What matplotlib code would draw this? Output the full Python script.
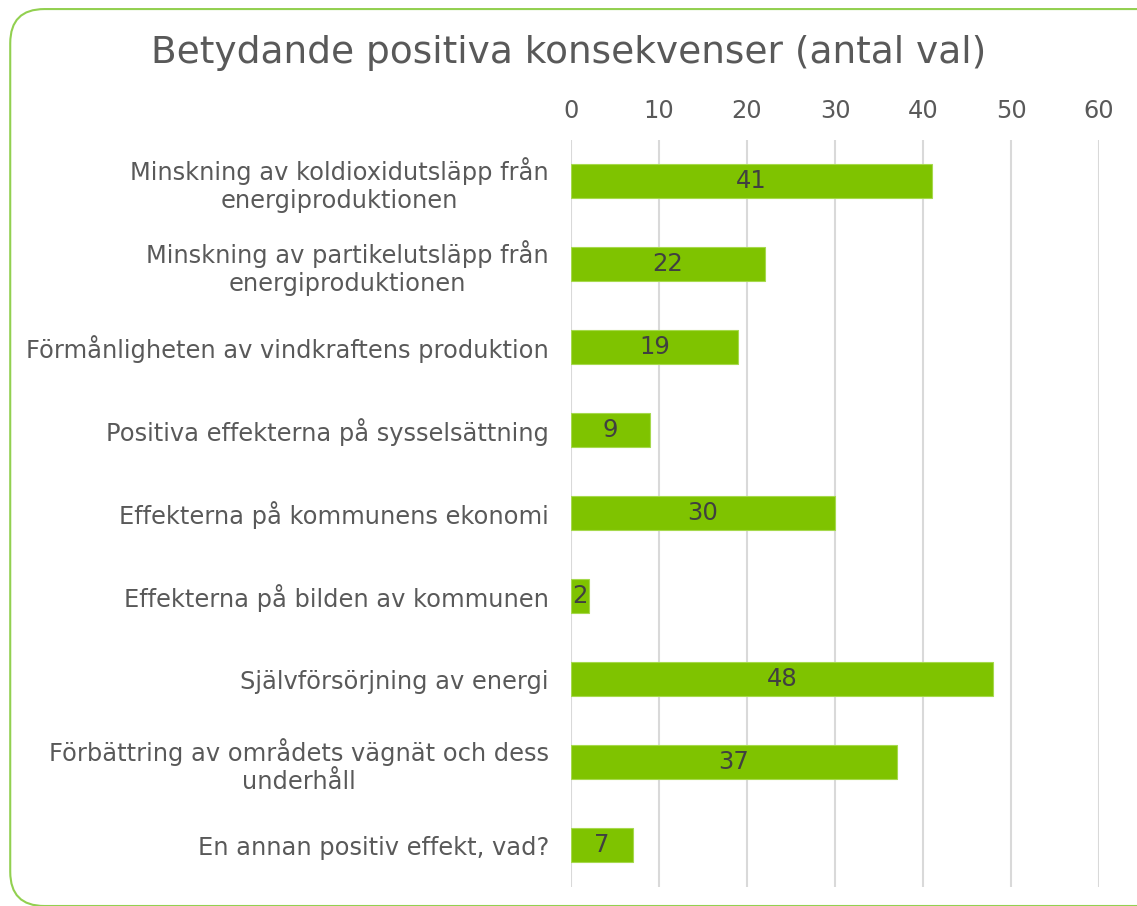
import matplotlib.pyplot as plt
from matplotlib.patches import FancyBboxPatch

kategorier = [
    "Minskning av koldioxidutsläpp från\nenergiproduktionen",
    "Minskning av partikelutsläpp från\nenergiproduktionen",
    "Förmånligheten av vindkraftens produktion",
    "Positiva effekterna på sysselsättning",
    "Effekterna på kommunens ekonomi",
    "Effekterna på bilden av kommunen",
    "Självförsörjning av energi",
    "Förbättring av områdets vägnät och dess\nunderhåll",
    "En annan positiv effekt, vad?",
]
antal = [41, 22, 19, 9, 30, 2, 48, 37, 7]
xticks = [0, 10, 20, 30, 40, 50, 60]

GRON = "#7FC300"
TEXT = "#595959"

plt.rcParams["font.family"] = "DejaVu Sans"

fig = plt.figure(figsize=(11.37, 9.06), dpi=100)
ax = fig.add_axes([0.5022, 0.0215, 0.4644, 0.8245])

# ram runt diagrammet
ram = FancyBboxPatch((0.009, 0.0), 1.2, 0.99, transform=fig.transFigure,
                     boxstyle="round,pad=0,rounding_size=0.03",
                     facecolor="none", edgecolor="#92D050", linewidth=1.5,
                     mutation_aspect=1137 / 906)
fig.patches.append(ram)

y = range(len(kategorier))
staplar = ax.barh(y, antal, height=0.4, color=GRON, edgecolor="#A6D94D",
                  linewidth=0.8, zorder=3)
ax.bar_label(staplar, labels=[str(v) for v in antal], label_type="center",
             fontsize=17.5, color="#404040")

ax.set_ylim(len(kategorier) - 0.5, -0.5)
ax.set_xlim(0, 60)
ax.set_yticks(list(y))
ax.set_yticklabels(kategorier, fontsize=17.4, color=TEXT)
for t in ax.get_yticklabels():
    t.set_multialignment("center")
    t.set_verticalalignment("center_baseline")
ax.tick_params(axis="y", length=0, pad=16)
ax.xaxis.tick_top()
ax.set_xticks(xticks)
ax.tick_params(axis="x", length=0, labelsize=17.4, labelcolor=TEXT, pad=12)
ax.grid(axis="x", color="#D9D9D9", linewidth=1.5, zorder=0)
for s in ax.spines.values():
    s.set_visible(False)

fig.text(0.5, 0.941, "Betydande positiva konsekvenser (antal val)",
         ha="center", va="center", fontsize=27, color=TEXT)

fig.savefig("out.png", dpi=100)
